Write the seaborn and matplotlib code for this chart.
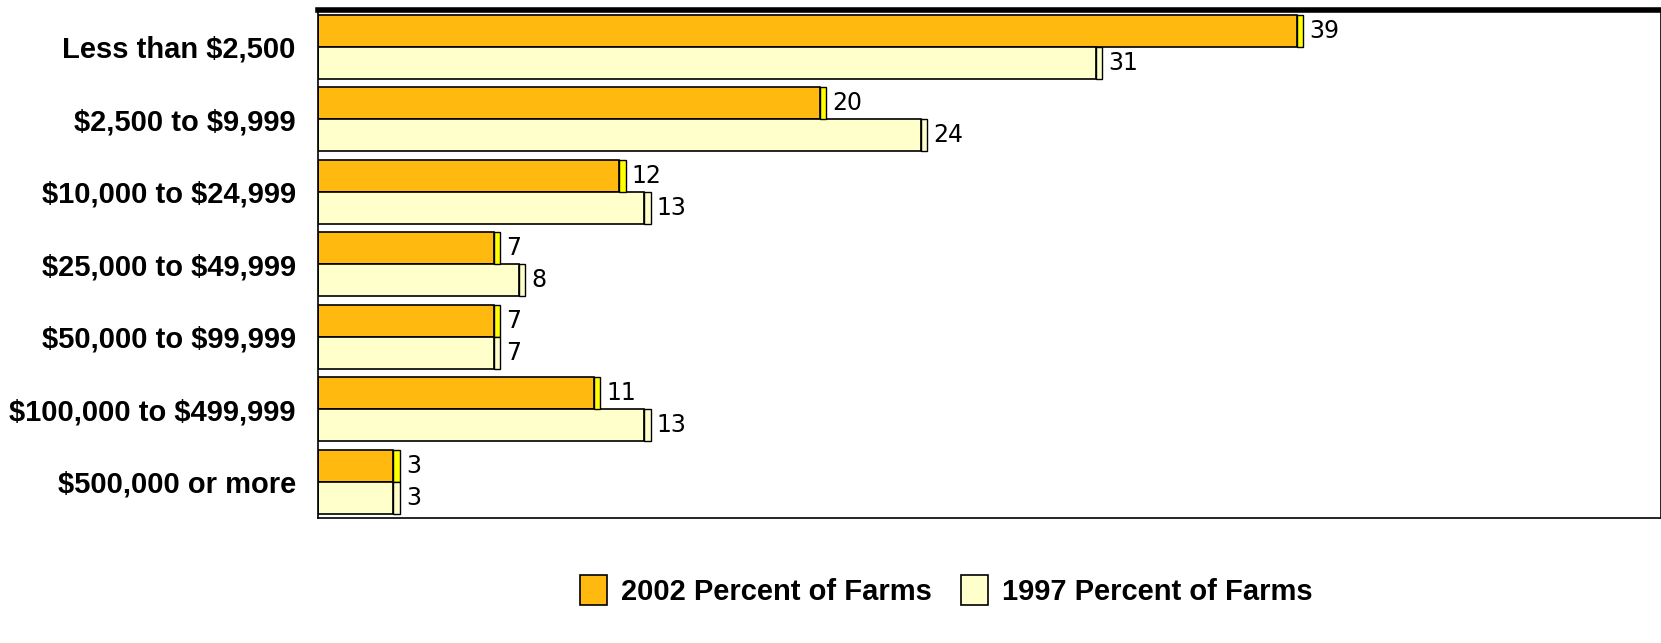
import pandas as pd
import seaborn as sns
import matplotlib.pyplot as plt

categories = ['Less than $2,500', '$2,500 to $9,999', '$10,000 to $24,999',
              '$25,000 to $49,999', '$50,000 to $99,999', '$100,000 to $499,999',
              '$500,000 or more']
pct_2002 = [39, 20, 12, 7, 7, 11, 3]
pct_1997 = [31, 24, 13, 8, 7, 13, 3]
series = ['2002 Percent of Farms', '1997 Percent of Farms']

df = pd.DataFrame({
    'category': categories * 2,
    'value': pct_2002 + pct_1997,
    'series': [series[0]] * len(categories) + [series[1]] * len(categories),
})

sns.set_style('white')
plt.rcParams['font.family'] = ['Liberation Sans', 'DejaVu Sans']
plt.rcParams['text.parse_math'] = False

fig = plt.figure(figsize=(16.61, 6.43), dpi=100)
ax = fig.add_axes([0.1915, 0.194, 0.8085, 0.79])

sns.barplot(data=df, y='category', x='value', hue='series', orient='h',
            palette=['#FFB90F', '#FFFFCC'], saturation=1, edgecolor='black',
            linewidth=1.2, width=0.88, ax=ax, legend=True)

main_containers = list(ax.containers)

# thin end cap, like the 3D side face in the original
for i, cont in enumerate(main_containers):
    cap = '#FFFF00' if i == 0 else '#FFFFCC'
    for bar in cont:
        ax.barh(bar.get_y() + bar.get_height() / 2, 0.25, left=bar.get_width(),
                height=bar.get_height(), color=cap, edgecolor='black', linewidth=1)

for cont in main_containers:
    ax.bar_label(cont, labels=[f'{v:g}' for v in cont.datavalues], padding=9,
                 fontsize=17, color='black',
                 family=['DejaVu Sans Condensed', 'Liberation Sans Narrow', 'DejaVu Sans'])

ax.set_xlim(0, 53.5)
ax.set_ylim(6.5, -0.5)
ax.set_xlabel('')
ax.set_ylabel('')
ax.set_xticks([])
ax.tick_params(axis='y', length=0, pad=16)
for lab in ax.get_yticklabels():
    lab.set_fontsize(21)
    lab.set_fontweight('bold')
    lab.set_color('black')

for s in ['left', 'bottom', 'right']:
    ax.spines[s].set_color('black')
    ax.spines[s].set_linewidth(1.2)
ax.spines['top'].set_color('black')
ax.spines['top'].set_linewidth(4)

handles, labels = ax.get_legend_handles_labels()
leg = ax.legend(handles[:2], labels[:2], loc='upper center', bbox_to_anchor=(0.468, -0.06),
                ncol=2, frameon=False, prop={'size': 21, 'weight': 'bold'},
                handlelength=0.9, handleheight=1.2, columnspacing=1.0, handletextpad=0.5)
for t in leg.get_texts():
    t.set_color('black')

fig.savefig('out.png', dpi=100)
